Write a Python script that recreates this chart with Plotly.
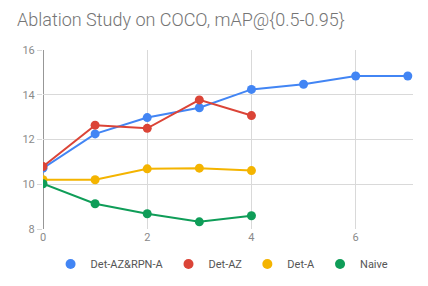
import plotly.graph_objects as go

steps_long = [0, 1, 2, 3, 4, 5, 6, 7]
steps_short = [0, 1, 2, 3, 4]

det_az_rpn_a = [10.72, 12.25, 12.98, 13.42, 14.24, 14.47, 14.84, 14.84]
det_az = [10.79, 12.64, 12.50, 13.77, 13.07]
det_a = [10.20, 10.20, 10.69, 10.72, 10.61]
naive = [10.02, 9.13, 8.68, 8.32, 8.59]

series = [
    ('Det-AZ&RPN-A', steps_long, det_az_rpn_a, '#4285F4'),
    ('Det-AZ', steps_short, det_az, '#DB4437'),
    ('Det-A', steps_short, det_a, '#F4B400'),
    ('Naive', steps_short, naive, '#0F9D58'),
]

fig = go.Figure()
for name, xs, ys, col in series:
    fig.add_trace(go.Scatter(x=xs, y=ys, mode='lines+markers', name=name, showlegend=False,
                             line=dict(color=col, width=2),
                             marker=dict(size=9, color=col)))
# legend shows only a dot, like the original
for name, xs, ys, col in series:
    fig.add_trace(go.Scatter(x=[None], y=[None], mode='markers', name=name,
                             marker=dict(size=10, color=col)))

# page body has an 8px margin, so everything is shifted up/left by 8
fig.update_layout(
    width=428, height=286,
    margin=dict(l=35, r=23, t=42, b=65, autoexpand=False),
    paper_bgcolor='white', plot_bgcolor='white',
    font=dict(family='Roboto', color='#757575', size=11),
    title=dict(text='Ablation Study on COCO, mAP@{0.5-0.95}', x=0.021, xanchor='left',
               yref='container', y=0.958, yanchor='middle',
               font=dict(size=18, color='#757575', family='Roboto Light, Roboto')),
    xaxis=dict(range=[0, 7.1], tickvals=[0, 2, 4, 6], showgrid=True, gridcolor='#d9d9d9',
               zeroline=False, showline=False, tickfont=dict(color='#8a8a8a'),
               automargin=False),
    yaxis=dict(range=[8, 16], tickvals=[8, 10, 12, 14, 16], showgrid=True, gridcolor='#d9d9d9',
               zeroline=False, showline=False, ticks='outside', ticklen=5, tickcolor='#d9d9d9',
               tickfont=dict(color='#8a8a8a'), automargin=False),
    legend=dict(orientation='h', x=0.484, xanchor='center', y=-0.196, yanchor='middle',
                font=dict(size=11, color='#555555'), itemwidth=30),
    showlegend=True,
)
fig.add_shape(type='line', xref='x', yref='paper', x0=0, x1=0, y0=0, y1=1,
              line=dict(color='#757575', width=1.5), layer='below')

fig.write_html("out.html")
